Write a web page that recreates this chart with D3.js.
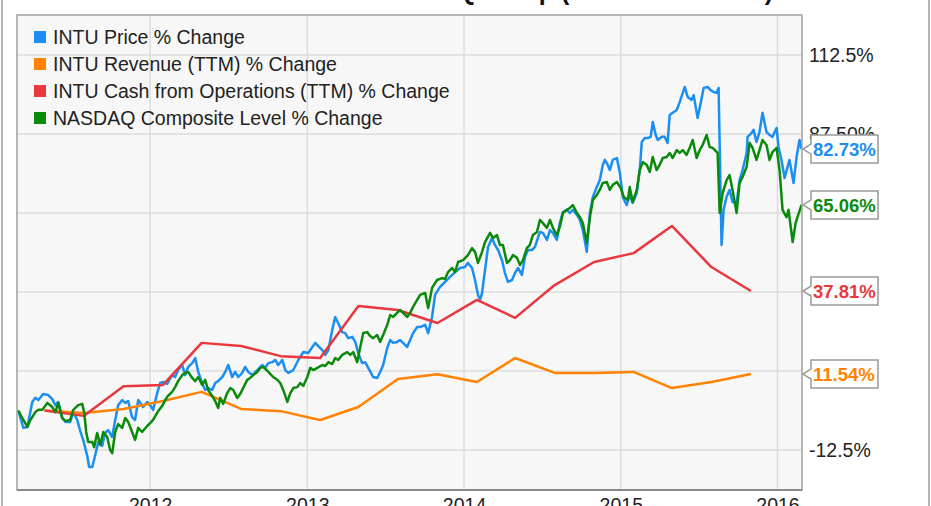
<!DOCTYPE html>
<html>
<head>
<meta charset="utf-8">
<script src="https://cdn.jsdelivr.net/npm/d3@7"></script>
<style>
body { margin: 0; background: #fff; }
svg { display: block; font-family: "Liberation Sans", Arial, sans-serif; }
</style>
</head>
<body>
<svg id="chart" width="931" height="506"></svg>
<script>
// DATA
var chartTitle = "INTU vs. NASDAQ Comp (Source: YCharts)";
var seriesNames = ["INTU Price % Change", "INTU Revenue (TTM) % Change",
    "INTU Cash from Operations (TTM) % Change", "NASDAQ Composite Level % Change"];
var seriesColors = ["#1b8ef2", "#ff8200", "#e8383d", "#0a8a0a"];
var endLabels = ["82.73%", "11.54%", "37.81%", "65.06%"];

// quarterly (fiscal quarter ends)
var quarterDates = ["2011-04-30", "2011-07-31", "2011-10-31", "2012-01-31", "2012-04-30",
    "2012-07-31", "2012-10-31", "2013-01-31", "2013-04-30", "2013-07-31", "2013-10-31",
    "2014-01-31", "2014-04-30", "2014-07-31", "2014-10-31", "2015-01-31", "2015-04-30",
    "2015-07-31", "2015-10-31"];
var revenueChange = [0, -0.8, 0.5, 3.0, 5.9, 0.5, -0.2, -3.0, 1.1, 10.0, 11.5, 9.0, 16.6,
    11.9, 11.9, 12.2, 7.1, 9.0, 11.54];
var cashChange = [0, -1.7, 7.7, 8.1, 21.4, 20.4, 17.2, 16.6, 33.1, 31.8, 27.7, 35.0, 29.3,
    39.7, 47.0, 49.8, 58.4, 45.4, 37.81];

// weekly series, [decimal year, % change]
var priceChange = [[2011.159,0],[2011.191,-5.5],[2011.217,-5.2],[2011.248,2.7],[2011.268,4.0],[2011.287,3.3],[2011.318,5.2],[2011.350,4.9],[2011.376,3.6],[2011.395,1.7],[2011.414,2.7],[2011.439,-2.1],[2011.459,-3.6],[2011.490,-3.6],[2011.510,-0.5],[2011.535,-3.0],[2011.554,-6.5],[2011.573,-9.3],[2011.599,-14.4],[2011.611,-17.9],[2011.631,-17.9],[2011.650,-14.1],[2011.669,-10.0],[2011.694,-11.2],[2011.713,-7.1],[2011.732,-6.2],[2011.758,-8.4],[2011.777,-3.0],[2011.796,1.7],[2011.822,3.3],[2011.841,2.4],[2011.860,3.0],[2011.885,-2.1],[2011.904,-3.0],[2011.924,3.3],[2011.955,1.1],[2011.981,2.7],[2012.000,1.7],[2012.019,0.2],[2012.045,5.5],[2012.064,8.7],[2012.083,9.0],[2012.108,8.4],[2012.140,11.2],[2012.159,10.6],[2012.178,12.8],[2012.204,14.4],[2012.223,11.2],[2012.242,13.8],[2012.268,15.0],[2012.287,16.6],[2012.306,12.2],[2012.331,8.7],[2012.350,6.5],[2012.369,7.1],[2012.395,6.5],[2012.414,8.7],[2012.433,9.3],[2012.459,10.6],[2012.478,12.2],[2012.497,14.4],[2012.522,10.6],[2012.541,12.2],[2012.561,10.6],[2012.586,11.9],[2012.605,13.8],[2012.624,12.2],[2012.650,11.2],[2012.682,12.8],[2012.713,14.4],[2012.732,13.5],[2012.752,15.0],[2012.777,15.3],[2012.796,16.0],[2012.815,14.4],[2012.841,16.0],[2012.860,12.8],[2012.879,11.9],[2012.911,12.8],[2012.943,16.0],[2012.975,18.5],[2013.006,18.2],[2013.032,20.1],[2013.051,21.4],[2013.070,20.4],[2013.096,19.1],[2013.115,17.6],[2013.134,19.1],[2013.159,25.5],[2013.178,29.6],[2013.197,27.7],[2013.223,24.8],[2013.242,24.5],[2013.261,22.9],[2013.287,23.3],[2013.306,21.7],[2013.325,18.2],[2013.350,15.0],[2013.369,15.3],[2013.389,13.5],[2013.420,10.6],[2013.446,10.3],[2013.465,12.2],[2013.484,14.4],[2013.510,19.8],[2013.529,22.3],[2013.548,21.4],[2013.573,21.7],[2013.592,22.3],[2013.611,21.4],[2013.637,20.1],[2013.656,22.3],[2013.675,24.5],[2013.701,26.4],[2013.720,26.4],[2013.752,27.1],[2013.771,24.5],[2013.796,29.6],[2013.815,36.6],[2013.847,39.1],[2013.879,40.7],[2013.911,42.3],[2013.943,43.8],[2013.975,45.1],[2014.006,45.4],[2014.025,46.7],[2014.051,45.1],[2014.070,41.3],[2014.089,36.6],[2014.102,35.0],[2014.115,37.2],[2014.134,44.5],[2014.153,51.7],[2014.178,54.6],[2014.197,52.4],[2014.217,50.8],[2014.242,47.6],[2014.261,43.5],[2014.280,40.7],[2014.306,41.3],[2014.325,43.5],[2014.344,45.1],[2014.369,42.9],[2014.389,48.6],[2014.408,50.8],[2014.433,50.8],[2014.452,51.7],[2014.484,56.5],[2014.503,56.2],[2014.529,54.0],[2014.548,57.1],[2014.567,56.2],[2014.592,54.0],[2014.611,59.3],[2014.631,62.8],[2014.656,63.5],[2014.675,62.5],[2014.694,63.5],[2014.720,61.9],[2014.739,60.3],[2014.758,57.1],[2014.783,50.2],[2014.803,62.5],[2014.822,67.6],[2014.847,70.7],[2014.866,72.9],[2014.885,77.7],[2014.898,79.3],[2014.917,77.7],[2014.930,76.1],[2014.949,79.3],[2014.975,79.9],[2014.994,75.2],[2015.013,67.6],[2015.038,65.0],[2015.057,68.2],[2015.076,65.7],[2015.102,68.8],[2015.121,76.1],[2015.134,85.0],[2015.153,86.2],[2015.172,86.2],[2015.191,86.6],[2015.204,91.3],[2015.223,87.2],[2015.236,85.6],[2015.261,86.6],[2015.280,86.6],[2015.299,84.7],[2015.312,93.5],[2015.331,94.2],[2015.357,95.1],[2015.376,97.6],[2015.408,102.4],[2015.427,99.2],[2015.452,98.3],[2015.465,99.8],[2015.490,92.6],[2015.510,97.3],[2015.529,102.1],[2015.554,102.4],[2015.573,101.4],[2015.592,100.8],[2015.611,100.5],[2015.624,102.1],[2015.643,52.4],[2015.656,63.5],[2015.675,67.6],[2015.694,69.8],[2015.713,66.0],[2015.739,65.7],[2015.758,72.9],[2015.777,76.1],[2015.803,81.5],[2015.809,86.6],[2015.834,87.8],[2015.847,88.8],[2015.866,85.0],[2015.885,88.1],[2015.904,94.2],[2015.930,88.1],[2015.949,87.2],[2015.968,86.6],[2015.994,89.4],[2016.006,83.4],[2016.025,79.3],[2016.045,73.6],[2016.064,77.1],[2016.076,79.3],[2016.102,72.0],[2016.121,80.2],[2016.140,85.6],[2016.153,82.73]];

var nasdaqChange = [[2011.159,0],[2011.191,-3.0],[2011.217,-5.2],[2011.236,-3.0],[2011.268,-0.5],[2011.287,0.2],[2011.312,0.2],[2011.344,2.4],[2011.376,1.1],[2011.395,-0.5],[2011.414,2.4],[2011.439,-2.4],[2011.459,-3.3],[2011.490,-3.0],[2011.510,0.2],[2011.541,1.7],[2011.567,2.1],[2011.580,-0.8],[2011.592,-6.8],[2011.605,-10.0],[2011.631,-10.0],[2011.643,-11.6],[2011.662,-7.1],[2011.682,-10.9],[2011.701,-6.8],[2011.726,-8.4],[2011.745,-12.5],[2011.758,-13.5],[2011.777,-6.8],[2011.796,-4.3],[2011.822,-5.5],[2011.841,-2.4],[2011.860,-3.6],[2011.885,-6.8],[2011.904,-9.3],[2011.924,-5.5],[2011.949,-6.8],[2011.981,-4.9],[2012.000,-4.0],[2012.019,-3.0],[2012.051,-0.2],[2012.076,1.4],[2012.108,4.3],[2012.140,5.9],[2012.159,7.4],[2012.178,9.3],[2012.204,11.2],[2012.223,11.9],[2012.242,12.2],[2012.268,10.3],[2012.287,9.3],[2012.306,10.6],[2012.331,8.1],[2012.350,9.7],[2012.369,6.5],[2012.395,4.6],[2012.414,3.0],[2012.433,0.8],[2012.446,4.0],[2012.465,2.1],[2012.490,5.5],[2012.510,7.1],[2012.529,6.5],[2012.554,4.0],[2012.573,5.2],[2012.592,7.1],[2012.618,9.7],[2012.637,10.3],[2012.656,11.2],[2012.682,12.2],[2012.701,13.5],[2012.720,13.8],[2012.752,12.2],[2012.783,10.6],[2012.809,9.7],[2012.828,8.7],[2012.847,6.5],[2012.873,2.7],[2012.892,5.5],[2012.911,7.1],[2012.936,7.4],[2012.955,8.7],[2012.975,7.8],[2013.000,10.6],[2013.019,13.5],[2013.038,12.8],[2013.064,13.5],[2013.096,14.4],[2013.115,14.1],[2013.134,15.3],[2013.159,14.7],[2013.178,16.6],[2013.197,16.0],[2013.223,17.6],[2013.255,18.5],[2013.274,17.6],[2013.293,18.5],[2013.318,15.3],[2013.338,20.1],[2013.357,24.5],[2013.382,24.8],[2013.401,23.6],[2013.420,22.9],[2013.446,23.9],[2013.465,21.7],[2013.484,23.9],[2013.510,27.1],[2013.529,30.2],[2013.548,29.6],[2013.573,30.9],[2013.592,31.8],[2013.611,30.9],[2013.637,29.6],[2013.656,30.9],[2013.675,32.8],[2013.701,35.0],[2013.720,36.6],[2013.752,37.2],[2013.771,32.4],[2013.796,38.8],[2013.828,41.3],[2013.860,41.9],[2013.879,41.6],[2013.898,43.8],[2013.924,45.1],[2013.943,43.8],[2013.962,47.0],[2013.994,47.6],[2014.025,49.2],[2014.051,51.4],[2014.070,50.2],[2014.089,46.7],[2014.115,50.2],[2014.134,53.3],[2014.166,56.2],[2014.185,54.6],[2014.210,55.5],[2014.229,52.4],[2014.248,52.4],[2014.274,46.7],[2014.293,47.6],[2014.312,49.2],[2014.338,48.3],[2014.357,46.0],[2014.376,47.6],[2014.401,51.4],[2014.420,52.4],[2014.439,55.5],[2014.465,56.5],[2014.484,60.3],[2014.503,59.3],[2014.529,57.8],[2014.548,60.3],[2014.567,57.8],[2014.592,55.5],[2014.611,58.1],[2014.631,62.5],[2014.656,63.5],[2014.675,64.1],[2014.694,65.0],[2014.720,62.5],[2014.739,61.2],[2014.758,59.3],[2014.783,53.0],[2014.803,61.2],[2014.822,66.6],[2014.847,68.2],[2014.866,69.8],[2014.885,72.0],[2014.911,72.3],[2014.930,69.8],[2014.949,71.4],[2014.975,72.3],[2015.000,70.4],[2015.019,67.6],[2015.045,66.6],[2015.057,70.7],[2015.076,66.0],[2015.102,69.8],[2015.121,76.1],[2015.140,78.6],[2015.166,77.7],[2015.185,75.5],[2015.204,80.2],[2015.229,76.1],[2015.248,77.7],[2015.268,79.9],[2015.293,80.2],[2015.312,81.5],[2015.331,79.9],[2015.357,82.4],[2015.376,81.5],[2015.395,82.4],[2015.420,80.9],[2015.439,83.1],[2015.459,85.6],[2015.484,79.9],[2015.503,82.4],[2015.522,84.0],[2015.548,87.2],[2015.567,83.4],[2015.586,83.1],[2015.618,81.5],[2015.631,62.5],[2015.650,68.8],[2015.675,72.9],[2015.694,74.5],[2015.713,69.8],[2015.739,62.5],[2015.758,72.0],[2015.777,73.9],[2015.803,77.1],[2015.822,84.7],[2015.841,83.1],[2015.866,79.3],[2015.885,82.4],[2015.904,85.6],[2015.930,84.0],[2015.949,79.3],[2015.968,81.8],[2015.994,83.1],[2016.013,76.1],[2016.032,63.5],[2016.057,61.2],[2016.070,63.5],[2016.089,56.2],[2016.096,53.3],[2016.115,59.3],[2016.127,61.2],[2016.153,65.06]];

var yTicks = [-12.5, 12.5, 37.5, 62.5, 87.5, 112.5];
// labels at 12.5 / 37.5 / 62.5 sit under the end-value boxes and are not visible
var yLabelTicks = [-12.5, 87.5, 112.5];
var yTickLabels = ["-12.5%", "87.50%", "112.5%"];
var xTickDates = ["2012-01-01", "2013-01-01", "2014-01-01", "2015-01-01", "2016-01-01"];
var xTickLabels = ["2012", "2013", "2014", "2015", "2016"];

// SETUP
var svg = d3.select("#chart"),
    plot = { left: 17, right: 802, top: 15, bottom: 490 };

function fromDecimalYear(t) {
    var yr = Math.floor(t),
        start = Date.UTC(yr, 0, 1),
        end = Date.UTC(yr + 1, 0, 1);
    return new Date(start + (t - yr) * (end - start));
}

var x = d3.scaleUtc()
    .domain([new Date(Date.UTC(2011, 1, 25)), new Date(Date.UTC(2016, 1, 27))])
    .range([plot.left, plot.right]);
var y = d3.scaleLinear().domain([-12.5, 112.5]).range([450, 55]);

// title, mostly above the top edge of the picture
svg.append("text")
    .attr("x", 773).attr("y", 0)
    .attr("text-anchor", "end")
    .attr("font-size", "25px").attr("font-weight", "bold").attr("fill", "#111")
    .text(chartTitle);

// outer frame of the image
svg.append("rect")
    .attr("x", 2).attr("y", -10).attr("width", 927).attr("height", 530)
    .attr("fill", "none").attr("stroke", "#9a9a9a").attr("stroke-width", 1.5);

// plot background
svg.append("rect")
    .attr("x", plot.left).attr("y", plot.top)
    .attr("width", plot.right - plot.left).attr("height", plot.bottom - plot.top)
    .attr("fill", "#f7f7f7");

svg.append("clipPath").attr("id", "clip")
  .append("rect")
    .attr("x", plot.left).attr("y", plot.top)
    .attr("width", plot.right - plot.left).attr("height", plot.bottom - plot.top);

// grid
var grid = svg.append("g").attr("stroke", "#dcdcdc").attr("stroke-width", 1.5);
grid.selectAll(".hgrid").data(yTicks).enter().append("line")
    .attr("x1", plot.left).attr("x2", plot.right)
    .attr("y1", function (d) { return y(d); }).attr("y2", function (d) { return y(d); });
grid.selectAll(".vgrid").data(xTickDates).enter().append("line")
    .attr("x1", function (d) { return x(new Date(d)); }).attr("x2", function (d) { return x(new Date(d)); })
    .attr("y1", plot.top).attr("y2", plot.bottom);

// lines
var line = d3.line()
    .x(function (d) { return x(d[0]); })
    .y(function (d) { return y(d[1]); });

var allSeries = [
    priceChange.map(function (d) { return [fromDecimalYear(d[0]), d[1]]; }),
    quarterDates.map(function (d, i) { return [new Date(d), revenueChange[i]]; }),
    quarterDates.map(function (d, i) { return [new Date(d), cashChange[i]]; }),
    nasdaqChange.map(function (d) { return [fromDecimalYear(d[0]), d[1]]; })
];

svg.append("g").attr("clip-path", "url(#clip)")
  .selectAll("path").data(allSeries).enter().append("path")
    .attr("d", line)
    .attr("fill", "none")
    .attr("stroke", function (d, i) { return seriesColors[i]; })
    .attr("stroke-width", 2.5)
    .attr("stroke-linejoin", "round");

// plot border
svg.append("rect")
    .attr("x", plot.left).attr("y", plot.top)
    .attr("width", plot.right - plot.left).attr("height", plot.bottom - plot.top)
    .attr("fill", "none").attr("stroke", "#a0a0a0").attr("stroke-width", 1.5);
svg.append("line")
    .attr("x1", plot.left).attr("x2", plot.right)
    .attr("y1", plot.bottom).attr("y2", plot.bottom)
    .attr("stroke", "#8a8a8a").attr("stroke-width", 2);

// axes
var yAxis = d3.axisRight(y)
    .tickValues(yLabelTicks)
    .tickFormat(function (d, i) { return yTickLabels[i]; })
    .tickSize(0).tickPadding(0);
svg.append("g")
    .attr("transform", "translate(809,0)")
    .call(yAxis)
    .call(function (g) { g.select(".domain").remove(); })
    .selectAll("text")
    .attr("font-size", "19.5px").attr("font-family", "Liberation Sans, Arial, sans-serif")
    .attr("fill", "#222");

var xAxis = d3.axisBottom(x)
    .tickValues(xTickDates.map(function (d) { return new Date(d); }))
    .tickFormat(function (d, i) { return xTickLabels[i]; })
    .tickSize(0).tickPadding(8);
svg.append("g")
    .attr("transform", "translate(0," + plot.bottom + ")")
    .call(xAxis)
    .call(function (g) { g.select(".domain").remove(); })
    .selectAll("text")
    .attr("font-size", "19.5px").attr("font-family", "Liberation Sans, Arial, sans-serif")
    .attr("fill", "#222");

// end value boxes
var ends = allSeries.map(function (s, i) {
    return { v: s[s.length - 1][1], label: endLabels[i], color: seriesColors[i] };
});
var boxes = svg.selectAll(".endbox").data(ends).enter().append("g")
    .attr("transform", function (d) { return "translate(0," + y(d.v) + ")"; });
boxes.append("path")
    .attr("d", "M811,-14 H878 V14 H811 V5 L803,0 L811,-5 Z")
    .attr("fill", "#fff").attr("stroke", "#999").attr("stroke-width", 1.5);
boxes.append("text")
    .attr("x", 813).attr("dy", "0.36em")
    .attr("font-size", "18.5px").attr("font-weight", "bold")
    .attr("fill", function (d) { return d.color; })
    .text(function (d) { return d.label; });

// legend
var legend = svg.append("g").attr("transform", "translate(34,31)");
var items = legend.selectAll("g").data(seriesNames).enter().append("g")
    .attr("transform", function (d, i) { return "translate(0," + i * 27 + ")"; });
items.append("rect")
    .attr("width", 12).attr("height", 12)
    .attr("fill", function (d, i) { return seriesColors[i]; });
items.append("text")
    .attr("x", 19).attr("y", 12.5)
    .attr("font-size", "19.5px").attr("fill", "#222")
    .text(function (d) { return d; });
</script>
</body>
</html>
